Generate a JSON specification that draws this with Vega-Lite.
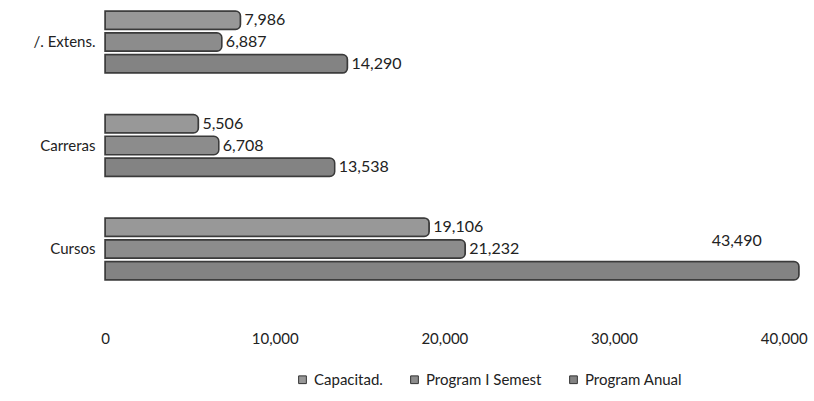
{
  "$schema": "https://vega.github.io/schema/vega-lite/v6.json",
  "width": 694,
  "height": 291,
  "padding": {"left": 105, "top": 0, "right": 15, "bottom": 110},
  "autosize": {"type": "none"},
  "background": "white",
  "config": {
    "view": {"stroke": null},
    "font": "Lato",
    "text": {"font": "Lato"}
  },
  "data": {
    "values": [
      {"categoria": "/. Extens.", "serie": "Capacitad.", "valor": 7986},
      {"categoria": "/. Extens.", "serie": "Program I Semest", "valor": 6887},
      {"categoria": "/. Extens.", "serie": "Program Anual", "valor": 14290},
      {"categoria": "Carreras", "serie": "Capacitad.", "valor": 5506},
      {"categoria": "Carreras", "serie": "Program I Semest", "valor": 6708},
      {"categoria": "Carreras", "serie": "Program Anual", "valor": 13538},
      {"categoria": "Cursos", "serie": "Capacitad.", "valor": 19106},
      {"categoria": "Cursos", "serie": "Program I Semest", "valor": 21232},
      {"categoria": "Cursos", "serie": "Program Anual", "valor": 43490}
    ]
  },
  "encoding": {
    "y": {
      "field": "categoria",
      "type": "nominal",
      "sort": ["/. Extens.", "Carreras", "Cursos"],
      "scale": {"paddingInner": 0.4, "paddingOuter": 0.106},
      "axis": {
        "title": null,
        "ticks": false,
        "domain": false,
        "labelFontSize": 15,
        "labelColor": "#222",
        "labelPadding": 10,
        "labelFont": "Lato"
      }
    },
    "yOffset": {
      "field": "serie",
      "type": "nominal",
      "sort": ["Capacitad.", "Program I Semest", "Program Anual"],
      "scale": {"paddingInner": 0.15}
    }
  },
  "layer": [
    {
      "mark": {"type": "bar", "cornerRadiusEnd": 5, "stroke": "#3a3a3a", "strokeWidth": 1.5},
      "encoding": {
        "x": {
          "field": "valor",
          "type": "quantitative",
          "scale": {"domain": [0, 40900], "nice": false, "zero": true, "clamp": true},
          "axis": {
            "title": null,
            "values": [0, 10000, 20000, 30000, 40000],
            "format": ",d",
            "grid": false,
            "ticks": false,
            "domain": false,
            "labelFlush": false,
            "labelFontSize": 15,
            "labelColor": "#222",
            "labelPadding": 40,
            "labelFont": "Lato"
          }
        },
        "color": {
          "field": "serie",
          "type": "nominal",
          "sort": ["Capacitad.", "Program I Semest", "Program Anual"],
          "scale": {"range": ["#989898", "#8c8c8c", "#838383"]},
          "legend": {
            "title": null,
            "orient": "none",
            "direction": "horizontal",
            "legendX": 190,
            "legendY": 372,
            "symbolType": "square",
            "symbolSize": 60,
            "symbolStrokeColor": "#333",
            "symbolStrokeWidth": 1,
            "labelFontSize": 15,
            "labelColor": "#222",
            "labelFont": "Lato",
            "columnPadding": 24
          }
        }
      }
    },
    {
      "transform": [{"filter": "datum.valor < 40000"}],
      "mark": {"type": "text", "align": "left", "baseline": "middle", "dx": 4, "fontSize": 16, "color": "#222"},
      "encoding": {
        "x": {"field": "valor", "type": "quantitative"},
        "text": {"field": "valor", "type": "quantitative", "format": ",d"}
      }
    },
    {
      "transform": [{"filter": "datum.valor >= 40000"}],
      "mark": {"type": "text", "align": "right", "baseline": "middle", "dx": -22, "dy": -30, "fontSize": 16, "color": "#222"},
      "encoding": {
        "x": {"datum": 40000, "type": "quantitative"},
        "text": {"field": "valor", "type": "quantitative", "format": ",d"}
      }
    }
  ]
}
